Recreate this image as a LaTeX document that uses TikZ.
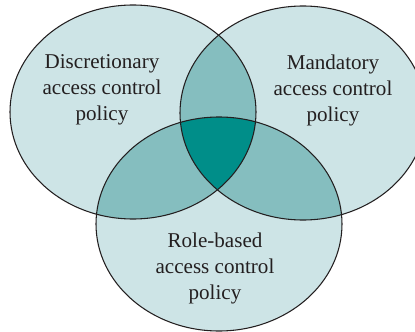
\documentclass[tikz,border=0pt]{standalone}
\usepackage{fontspec}
\setmainfont{Liberation Serif}
\usepackage{xcolor}
\definecolor{venn-light}{RGB}{205, 228, 230}
\definecolor{venn-mid}{RGB}{133, 190, 191}
\definecolor{venn-dark}{RGB}{0, 142, 137}
\definecolor{venn-line}{RGB}{35, 31, 32}
\newcommand\dacset{(133,112) ellipse [x radius=123, y radius=107]}
\newcommand\macset{(303,113) ellipse [x radius=123, y radius=107]}
\newcommand\rbacset{(219,224) ellipse [x radius=123, y radius=107]}

\begin{document}
\begin{tikzpicture}[
    x=0.75pt, y=-0.75pt,
    setname/.style={align=center, font=\fontsize{15.8}{19.5}\selectfont,
                    text=venn-line, inner sep=0pt},
    rim/.style={draw=venn-line, line width=0.8pt}
  ]
    \useasboundingbox (0,0) rectangle (415,332);
    \clip (0,0) rectangle (415,332);
    % single sets
    \fill[venn-light] \dacset;
    \fill[venn-light] \macset;
    \fill[venn-light] \rbacset;
    % pairwise overlaps
    \begin{scope}
      \clip \dacset;
      \fill[venn-mid] \macset;
      \fill[venn-mid] \rbacset;
    \end{scope}
    \begin{scope}
      \clip \macset;
      \fill[venn-mid] \rbacset;
    \end{scope}
    % all three
    \begin{scope}
      \clip \dacset;
      \clip \macset;
      \fill[venn-dark] \rbacset;
    \end{scope}
    \draw[rim] \dacset;
    \draw[rim] \macset;
    \draw[rim] \rbacset;
    \node[setname] (dac)  at (102,90)  {Discretionary\\access control\\policy};
    \node[setname] (mac)  at (333,90)  {Mandatory\\access control\\policy};
    \node[setname] (rbac) at (215,268) {Role-based\\access control\\policy};
  \end{tikzpicture}
\end{document}
